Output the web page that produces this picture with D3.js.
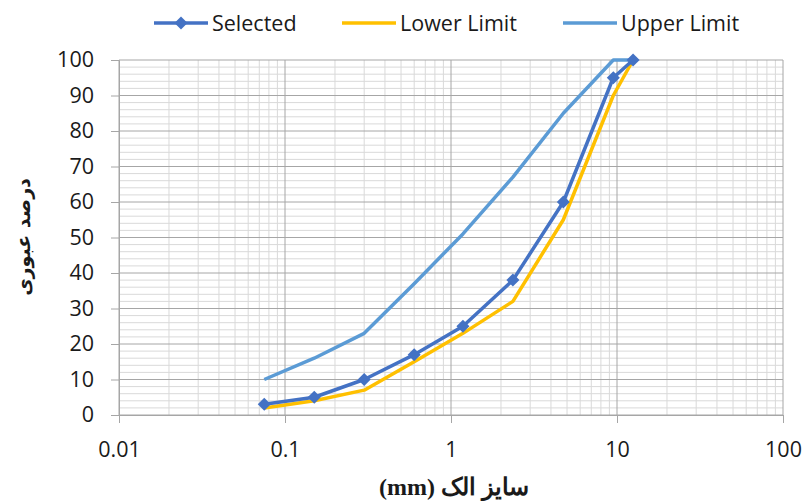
<!DOCTYPE html>
<html><head><meta charset="utf-8">
<script src="https://cdn.jsdelivr.net/npm/d3@7"></script>
<style>body{margin:0;background:#fff}svg{display:block}</style>
</head><body>
<svg id="c" width="803" height="501"></svg>
<script>
const sieve = [0.075, 0.15, 0.3, 0.6, 1.18, 2.36, 4.75, 9.5, 12.5];
const selected = [3, 5, 10, 17, 25, 38, 60, 95, 100];
const lowerLimit = [2, 4, 7, 15, 23, 32, 55, 90, 100];
const upperLimit = [10, 16, 23, 37, 51, 67, 85, 100, 100];
const xTicks = [0.01, 0.1, 1, 10, 100];
const yTicks = [0,10,20,30,40,50,60,70,80,90,100];
const seriesNames = ["Selected", "Lower Limit", "Upper Limit"];
const colors = ["#4472C4", "#FFC000", "#5B9BD5"];

const svg = d3.select("#c");
const L = 119, R = 783, T = 60, B = 415;
const x = d3.scaleLog().domain([0.01, 100]).range([L, R]);
const y = d3.scaleLinear().domain([0, 100]).range([B, T]);
const font = "'Open Sans', sans-serif";
const fs = 21.5;

// minor horizontal grid
const g = svg.append("g");
for (let v = 2; v < 100; v += 2) {
  if (v % 10 === 0) continue;
  g.append("line").attr("x1", L).attr("x2", R).attr("y1", y(v)).attr("y2", y(v))
    .attr("stroke", "#d9d9d9").attr("stroke-width", 1);
}
// minor vertical grid
const minors = [];
for (let e = -2; e < 2; e++) for (let m = 2; m <= 9; m++) minors.push(m * Math.pow(10, e));
minors.forEach(v => g.append("line").attr("x1", x(v)).attr("x2", x(v)).attr("y1", T).attr("y2", B)
  .attr("stroke", "#d9d9d9").attr("stroke-width", 1));
// major grid
yTicks.forEach(v => g.append("line").attr("x1", L).attr("x2", R).attr("y1", y(v)).attr("y2", y(v))
  .attr("stroke", "#a6a6a6").attr("stroke-width", 1));
xTicks.forEach(v => g.append("line").attr("x1", x(v)).attr("x2", x(v)).attr("y1", T).attr("y2", B)
  .attr("stroke", "#a6a6a6").attr("stroke-width", 1));

// axes
const yAxis = d3.axisLeft(y).tickValues(yTicks).tickSize(8).tickPadding(17).tickFormat(d3.format("d"));
const ya = svg.append("g").attr("transform", `translate(${L},0)`).call(yAxis);
const xAxis = d3.axisBottom(x).tickValues(xTicks).tickSize(8).tickPadding(19).tickFormat(d => String(d));
const xa = svg.append("g").attr("transform", `translate(0,${B})`).call(xAxis);
[ya, xa].forEach(a => {
  a.select(".domain").attr("stroke", "#a6a6a6");
  a.selectAll(".tick line").attr("stroke", "#a6a6a6");
  a.selectAll("text").attr("font-family", font).attr("font-size", fs).attr("fill", "#1a1a1a");
});

// series
const data = [selected, lowerLimit, upperLimit];
const line = d3.line().x(d => x(d[0])).y(d => y(d[1]));
[2, 1, 0].forEach(i => {
  const pts = sieve.map((s, k) => [s, data[i][k]]);
  svg.append("path").datum(pts).attr("d", line).attr("fill", "none")
    .attr("stroke", colors[i]).attr("stroke-width", 3.5).attr("stroke-linejoin", "round");
});
const sym = d3.symbol().type(d3.symbolSquare).size(85);
sieve.forEach((s, k) => {
  svg.append("path").attr("d", sym).attr("transform", `translate(${x(s)},${y(selected[k])}) rotate(45)`)
    .attr("fill", colors[0]);
});

// legend
const legX = [154, 342, 563];
seriesNames.forEach((n, i) => {
  const lg = svg.append("g").attr("transform", `translate(${legX[i]},23)`);
  lg.append("line").attr("x1", 0).attr("x2", 54).attr("stroke", colors[i]).attr("stroke-width", 3.5);
  if (i === 0) lg.append("path").attr("d", sym).attr("transform", "translate(27,0) rotate(45)").attr("fill", colors[0]);
  lg.append("text").attr("x", 58).attr("y", 0).attr("dy", "0.35em").text(n)
    .attr("font-family", font).attr("font-size", fs).attr("fill", "#1a1a1a");
});

// axis titles
svg.append("text").attr("x", 454).attr("y", 495).attr("text-anchor", "middle")
  .attr("direction", "rtl").attr("font-family", "'Liberation Serif', 'DejaVu Serif', serif").attr("font-weight", "bold")
  .attr("font-size", 24).attr("fill", "#1a1a1a").text("سایز الک (mm)");
svg.append("text").attr("transform", "translate(30,237) rotate(-90)").attr("text-anchor", "middle")
  .attr("direction", "rtl").attr("font-family", "'DejaVu Sans', sans-serif").attr("font-weight", "bold")
  .attr("font-size", 19).attr("fill", "#1a1a1a").text("درصد عبوری");
</script>
</body></html>
